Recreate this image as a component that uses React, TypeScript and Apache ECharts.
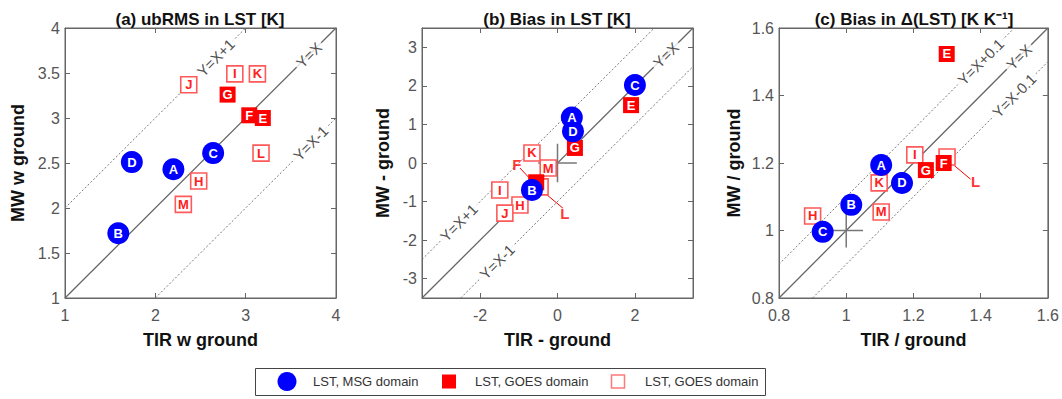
import React, { useEffect, useRef } from "react";
import * as echarts from "echarts";

// ---------- data ----------
// [label, x, y]
const ubrmsMsg: [string, number, number][] = [
  ["A", 2.2, 2.43],
  ["B", 1.59, 1.72],
  ["C", 2.64, 2.61],
  ["D", 1.74, 2.51],
];
const ubrmsGoesFilled: [string, number, number][] = [
  ["G", 2.8, 3.26],
  ["F", 3.04, 3.03],
  ["E", 3.19, 3.0],
];
const ubrmsGoesOpen: [string, number, number][] = [
  ["H", 2.48, 2.3],
  ["I", 2.88, 3.49],
  ["J", 2.37, 3.37],
  ["K", 3.13, 3.49],
  ["L", 3.17, 2.61],
  ["M", 2.31, 2.04],
];

const biasMsg: [string, number, number][] = [
  ["A", 0.37, 1.18],
  ["B", -0.66, -0.7],
  ["C", 2.0, 2.02],
  ["D", 0.4, 0.82],
];
const biasGoesFilled: [string, number, number][] = [
  ["E", 1.9, 1.5],
  ["F", -0.55, -0.5],
  ["G", 0.45, 0.39],
];
const biasGoesOpen: [string, number, number][] = [
  ["H", -0.97, -1.09],
  ["I", -1.49, -0.7],
  ["J", -1.36, -1.3],
  ["K", -0.66, 0.26],
  ["L", -0.45, -0.62],
  ["M", -0.24, -0.13],
];
// letters drawn outside their marker: [label, textX, textY, fromX, fromY, toX, toY]
const biasCallouts: [string, number, number, number, number, number, number][] = [
  ["F", -1.05, -0.03, -0.97, -0.13, -0.7, -0.42],
  ["L", 0.19, -1.3, 0.14, -1.17, -0.4, -0.72],
];

const ratioMsg: [string, number, number][] = [
  ["A", 1.104, 1.194],
  ["B", 1.015, 1.076],
  ["C", 0.93, 0.996],
  ["D", 1.166, 1.141],
];
const ratioGoesFilled: [string, number, number][] = [
  ["E", 1.299, 1.523],
  ["G", 1.237, 1.179],
  ["F", 1.29, 1.2],
];
const ratioGoesOpen: [string, number, number][] = [
  ["H", 0.9, 1.043],
  ["I", 1.204, 1.224],
  ["K", 1.098, 1.141],
  ["L", 1.3, 1.218],
  ["M", 1.104, 1.055],
];
const ratioCallouts: [string, number, number, number, number, number, number][] = [
  ["L", 1.385, 1.144, 1.37, 1.152, 1.322, 1.192],
];

// reference lines: [x1, y1, x2, y2, solid]
const refLinesA: [number, number, number, number, boolean][] = [
  [1, 1, 4, 4, true],
  [1, 2, 3, 4, false],
  [2, 1, 4, 3, false],
];
const refLinesB: [number, number, number, number, boolean][] = [
  [-3.5, -3.5, 3.5, 3.5, true],
  [-3.5, -2.5, 2.5, 3.5, false],
  [-2.5, -3.5, 3.5, 2.5, false],
];
const refLinesC: [number, number, number, number, boolean][] = [
  [0.8, 0.8, 1.6, 1.6, true],
  [0.8, 0.9, 1.5, 1.6, false],
  [0.9, 0.8, 1.6, 1.5, false],
];
// line tags: [text, x, y]
const lineTagsA: [string, number, number][] = [
  ["Y=X+1", 2.67, 3.67],
  ["Y=X", 3.7, 3.7],
  ["Y=X-1", 3.72, 2.72],
];
const lineTagsB: [string, number, number][] = [
  ["Y=X", 2.8, 2.8],
  ["Y=X+1", -2.55, -1.55],
  ["Y=X-1", -1.56, -2.56],
];
const lineTagsC: [string, number, number][] = [
  ["Y=X+0.1", 1.4, 1.5],
  ["Y=X", 1.514, 1.514],
  ["Y=X-0.1", 1.5, 1.4],
];
// crosses: [cx, cy, half]
const crossB: [number, number, number] = [0, 0, 0.5];
const crossC: [number, number, number] = [1, 1, 0.05];

const aXTicks = [1, 2, 3, 4];
const aYTicks = [1, 1.5, 2, 2.5, 3, 3.5, 4];
const bXTicks = [-2, 0, 2];
const bYTicks = [-3, -2, -1, 0, 1, 2, 3];
const cTicks = [0.8, 1, 1.2, 1.4, 1.6];

const titles = ["(a) ubRMS in LST [K]", "(b) Bias in LST [K]", "(c) Bias in \u0394(LST) [K K\u207B\u00B9]"];
const xNames = ["TIR w ground", "TIR - ground", "TIR / ground"];
const yNames = ["MW w ground", "MW - ground", "MW / ground"];
const legendNames = ["LST, MSG domain", "LST, GOES domain", "LST, GOES domain"];

// ---------- styling ----------
const FONT = "'Liberation Sans', Arial, Helvetica, sans-serif";
const BLUE = "#0000ff";
const RED = "#ff0000";
const OPEN_RED = "#ff5a5a";
const AXIS = "#666";

const App: React.FC = () => {
  const ref = useRef<HTMLDivElement>(null);

  useEffect(() => {
    document.body.style.margin = "0";
    if (!ref.current) return;
    const chart = echarts.init(ref.current, null, { renderer: "svg" });

    const panels = [
      { left: 65, xr: [1, 4], yr: [1, 4], xt: aXTicks, yt: aYTicks, gap: 38 },
      { left: 422, xr: [-3.5, 3.5], yr: [-3.5, 3.5], xt: bXTicks, yt: bYTicks, gap: 30 },
      { left: 779, xr: [0.8, 1.6], yr: [0.8, 1.6], xt: cTicks, yt: cTicks, gap: 36 },
    ];
    const top = 28;
    const w = 271;
    const h = 270;

    const grid = panels.map((p) => ({
      left: p.left,
      top,
      width: w,
      height: h,
      show: true,
      borderColor: AXIS,
      borderWidth: 1,
      backgroundColor: "#fff",
    }));

    const xAxis: any[] = [];
    const yAxis: any[] = [];
    panels.forEach((p, i) => {
      const tick = (vals: number[]) => ({
        show: true,
        inside: true,
        length: 5,
        customValues: vals,
        lineStyle: { color: AXIS },
      });
      xAxis.push({
        type: "value",
        gridIndex: i,
        position: "bottom",
        min: p.xr[0],
        max: p.xr[1],
        name: xNames[i],
        nameLocation: "middle",
        nameGap: 33,
        nameTextStyle: { fontSize: 18, fontWeight: "bold", color: "#111", fontFamily: FONT },
        axisLine: { show: true, onZero: false, lineStyle: { color: AXIS } },
        axisTick: tick(p.xt),
        axisLabel: { customValues: p.xt, color: "#555", fontSize: 16, margin: 9, fontFamily: FONT },
        splitLine: { show: false },
      });
      xAxis.push({
        type: "value",
        gridIndex: i,
        position: "top",
        min: p.xr[0],
        max: p.xr[1],
        axisLine: { show: true, onZero: false, lineStyle: { color: AXIS } },
        axisTick: tick(p.xt),
        axisLabel: { show: false },
        splitLine: { show: false },
      });
      yAxis.push({
        type: "value",
        gridIndex: i,
        position: "left",
        min: p.yr[0],
        max: p.yr[1],
        name: yNames[i],
        nameLocation: "middle",
        nameRotate: 90,
        nameGap: p.gap,
        nameTextStyle: { fontSize: 18, fontWeight: "bold", color: "#111", fontFamily: FONT },
        axisLine: { show: true, onZero: false, lineStyle: { color: AXIS } },
        axisTick: tick(p.yt),
        axisLabel: { customValues: p.yt, color: "#555", fontSize: 16, margin: 5, fontFamily: FONT },
        splitLine: { show: false },
      });
      yAxis.push({
        type: "value",
        gridIndex: i,
        position: "right",
        min: p.yr[0],
        max: p.yr[1],
        axisLine: { show: true, onZero: false, lineStyle: { color: AXIS } },
        axisTick: tick(p.yt),
        axisLabel: { show: false },
        splitLine: { show: false },
      });
    });

    const series: any[] = [];
    const ax = (i: number) => ({ xAxisIndex: i * 2, yAxisIndex: i * 2 });

    const addSegment = (i: number, x1: number, y1: number, x2: number, y2: number, style: any, z: number) => {
      series.push({
        type: "line",
        ...ax(i),
        data: [
          [x1, y1],
          [x2, y2],
        ],
        symbol: "none",
        silent: true,
        z,
        lineStyle: style,
      });
    };

    const refSets = [refLinesA, refLinesB, refLinesC];
    const tagSets = [lineTagsA, lineTagsB, lineTagsC];
    refSets.forEach((set, i) => {
      set.forEach(([x1, y1, x2, y2, solid]) =>
        addSegment(
          i,
          x1,
          y1,
          x2,
          y2,
          solid ? { color: "#666", width: 1.3, type: "solid" } : { color: "#777", width: 1, type: [2, 2] },
          2
        )
      );
      series.push({
        type: "scatter",
        ...ax(i),
        symbolSize: 0,
        silent: true,
        z: 3,
        data: tagSets[i].map(([t, x, y]) => ({ name: t, value: [x, y] })),
        label: {
          show: true,
          position: "inside",
          formatter: "{b}",
          rotate: 45,
          fontSize: 15,
          color: "#222",
          fontFamily: FONT,
          backgroundColor: "#fff",
          padding: [0, 3],
        },
      });
    });

    // crosses
    [
      [1, crossB],
      [2, crossC],
    ].forEach(([i, c]: any) => {
      const [cx, cy, hw] = c;
      const st = { color: "#777", width: 1.5 };
      addSegment(i, cx - hw, cy, cx + hw, cy, st, 3);
      addSegment(i, cx, cy - hw, cx, cy + hw, st, 3);
    });

    // callout leader lines
    const calloutSets: [number, typeof biasCallouts][] = [
      [1, biasCallouts],
      [2, ratioCallouts],
    ];
    calloutSets.forEach(([i, set]) => {
      set.forEach(([, , , fx, fy, tx, ty]) => addSegment(i, fx, fy, tx, ty, { color: RED, width: 1 }, 3));
    });

    const openSets = [ubrmsGoesOpen, biasGoesOpen, ratioGoesOpen];
    const filledSets = [ubrmsGoesFilled, biasGoesFilled, ratioGoesFilled];
    const msgSets = [ubrmsMsg, biasMsg, ratioMsg];
    const hidden = (i: number, letter: string) =>
      (i === 1 && biasCallouts.some((c) => c[0] === letter)) ||
      (i === 2 && ratioCallouts.some((c) => c[0] === letter));

    const markerLabel = (color: string) => ({
      show: true,
      position: "inside",
      formatter: "{b}",
      color,
      fontSize: 13,
      lineHeight: 13,
      fontWeight: "bold",
      fontFamily: FONT,
    });

    [0, 1, 2].forEach((i) => {
      series.push({
        type: "scatter",
        name: legendNames[2],
        ...ax(i),
        symbol: "rect",
        symbolSize: 16,
        z: 4,
        itemStyle: { color: "#fff", borderColor: OPEN_RED, borderWidth: 1.6, opacity: 1 },
        label: markerLabel("#ff2020"),
        data: openSets[i].map(([n, x, y]) => ({
          name: n,
          value: [x, y],
          label: hidden(i, n) ? { show: false } : undefined,
        })),
      });
      series.push({
        type: "scatter",
        name: legendNames[1],
        ...ax(i),
        symbol: "rect",
        symbolSize: 16,
        z: 5,
        itemStyle: { color: RED, opacity: 1 },
        label: markerLabel("#fff"),
        data: filledSets[i].map(([n, x, y]) => ({
          name: n,
          value: [x, y],
          label: hidden(i, n) ? { show: false } : undefined,
        })),
      });
      series.push({
        type: "scatter",
        name: legendNames[0],
        ...ax(i),
        symbol: "circle",
        symbolSize: 22,
        z: 6,
        itemStyle: { color: BLUE, opacity: 1 },
        label: markerLabel("#fff"),
        data: msgSets[i].map(([n, x, y]) => ({ name: n, value: [x, y] })),
      });
    });

    calloutSets.forEach(([i, set]) => {
      series.push({
        type: "scatter",
        ...ax(i),
        symbolSize: 0,
        silent: true,
        z: 7,
        data: set.map(([n, x, y]) => ({ name: n, value: [x, y] })),
        label: {
          show: true,
          position: "inside",
          formatter: "{b}",
          color: RED,
          fontSize: 15,
          fontWeight: "bold",
          fontFamily: FONT,
        },
      });
    });

    const titleCenters = [200, 557, 914];
    const graphic: any[] = titleCenters.map((cx, i) => ({
      type: "text",
      x: cx,
      y: 19,
      style: {
        text: titles[i],
        x: 0,
        y: 0,
        align: "center",
        verticalAlign: "middle",
        fontSize: 17,
        fontWeight: "bold",
        fill: "#111",
        fontFamily: FONT,
      },
    }));

    // legend box
    const ly = 368;
    const lh = 27;
    const lc = ly + lh / 2;
    graphic.push({
      type: "rect",
      shape: { x: 255.5, y: ly + 0.5, width: 510, height: lh },
      style: { fill: "#fff", stroke: "#444", lineWidth: 1 },
    });
    graphic.push({ type: "circle", shape: { cx: 287, cy: lc, r: 9.5 }, style: { fill: BLUE } });
    graphic.push({ type: "rect", shape: { x: 442, y: lc - 7, width: 14, height: 14 }, style: { fill: RED } });
    graphic.push({
      type: "rect",
      shape: { x: 611.5, y: lc - 6.5, width: 13, height: 13 },
      style: { fill: "#fff", stroke: "#ff7a7a", lineWidth: 1.5 },
    });
    [313, 475, 645].forEach((x, k) =>
      graphic.push({
        type: "text",
        x,
        y: lc,
        style: {
          text: legendNames[k],
          x: 0,
          y: 0,
          verticalAlign: "middle",
          fontSize: 13,
          fill: "#333",
          fontFamily: FONT,
        },
      })
    );

    chart.setOption({
      animation: false,
      backgroundColor: "#fff",
      textStyle: { fontFamily: FONT },
      grid,
      xAxis,
      yAxis,
      series,
      graphic,
    });

    return () => chart.dispose();
  }, []);

  return <div ref={ref} style={{ width: 1062, height: 399 }} />;
};

export default App;
